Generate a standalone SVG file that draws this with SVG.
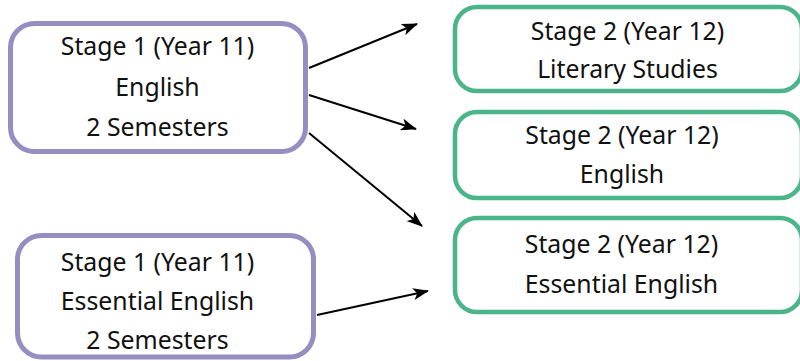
<svg xmlns="http://www.w3.org/2000/svg" width="800" height="361" viewBox="0 0 800 361">
<style>
.s1{fill:#fff;stroke:#968dc1;stroke-width:5}
.s2{fill:#fff;stroke:#4cb48a;stroke-width:4.5}
text{font-family:"Noto Sans","Liberation Sans",sans-serif;font-size:24.8px;fill:#111;text-anchor:middle}
.c{stroke:#000;stroke-width:2;fill:none;marker-end:url(#ah)}
</style>
<defs>
<marker id="ah" viewBox="0 0 16 12" refX="15" refY="6" markerWidth="16" markerHeight="12" markerUnits="userSpaceOnUse" orient="auto">
<path d="M0,0 L16,6 L0,12 L4,6 Z" fill="#000"/>
</marker>
</defs>
<g id="connectors">
<line class="c" x1="309" y1="68" x2="417" y2="24"/>
<line class="c" x1="309" y1="95" x2="416" y2="129"/>
<line class="c" x1="309" y1="133" x2="422" y2="226"/>
<line class="c" x1="317" y1="315" x2="428" y2="291"/>
</g>
<g id="n1">
<rect class="s1" x="10.5" y="23.5" width="295" height="128" rx="24"/>
<text x="157.5" y="55">Stage 1 (Year 11)</text>
<text x="157.5" y="96">English</text>
<text x="157.5" y="136">2 Semesters</text>
</g>
<g id="n2">
<rect class="s1" x="17.5" y="235.5" width="296" height="121.5" rx="24"/>
<text x="157.5" y="271">Stage 1 (Year 11)</text>
<text x="157.5" y="310">Essential English</text>
<text x="157.5" y="349">2 Semesters</text>
</g>
<g id="n3">
<rect class="s2" x="455" y="7" width="347" height="84" rx="22"/>
<text x="627.5" y="40">Stage 2 (Year 12)</text>
<text x="627.5" y="78">Literary Studies</text>
</g>
<g id="n4">
<rect class="s2" x="455" y="112" width="347" height="86" rx="22"/>
<text x="622" y="144">Stage 2 (Year 12)</text>
<text x="622" y="183">English</text>
</g>
<g id="n5">
<rect class="s2" x="455" y="218" width="347" height="94" rx="22"/>
<text x="621.5" y="253">Stage 2 (Year 12)</text>
<text x="621.5" y="293">Essential English</text>
</g>
</svg>
